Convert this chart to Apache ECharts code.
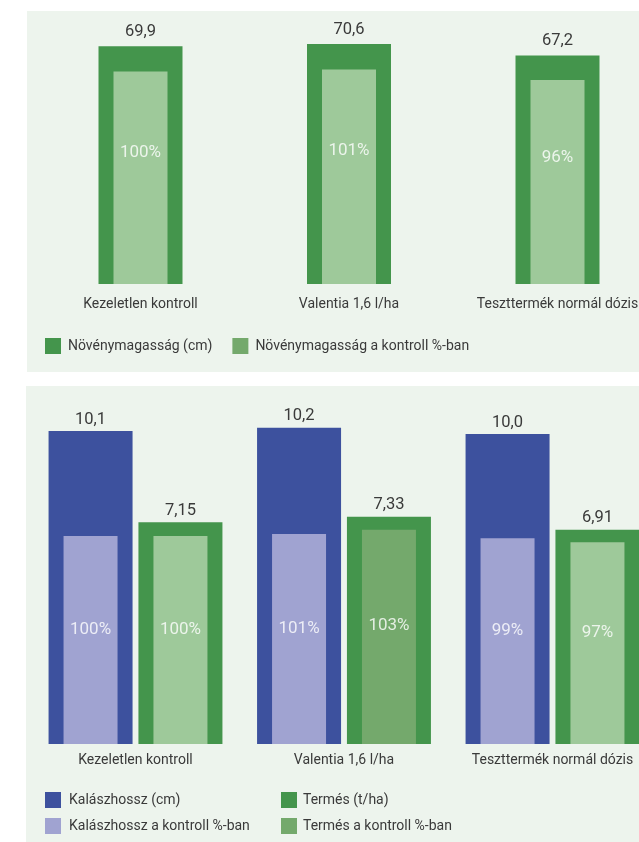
<!DOCTYPE html>
<html>
<head>
<meta charset="utf-8">
<script src="https://cdn.jsdelivr.net/npm/echarts@6/dist/echarts.min.js"></script>
<style>
html,body{margin:0;padding:0;background:#ffffff;}
#chart{width:639px;height:842px;}
</style>
</head>
<body>
<div id="chart"></div>
<script>
// Top chart
var topCategories = ['Kezeletlen kontroll', 'Valentia 1,6 l/ha', 'Teszttermék normál dózis'];
var plantHeight = [69.9, 70.6, 67.2];          // Növénymagasság (cm)
var plantHeightPct = [100, 101, 96];           // Növénymagasság a kontroll %-ban

// Bottom chart
var bottomCategories = ['Kezeletlen kontroll', 'Valentia 1,6 l/ha', 'Teszttermék normál dózis'];
var earLength = [10.1, 10.2, 10.0];            // Kalászhossz (cm)
var yieldTHa = [7.15, 7.33, 6.91];             // Termés (t/ha)
var earLengthPct = [100, 101, 99];             // Kalászhossz a kontroll %-ban
var yieldPct = [100, 103, 97];                 // Termés a kontroll %-ban

var FONT = "Roboto, 'Liberation Sans', sans-serif";
var TXT = '#3a3a3a';
var DARK_GREEN = '#44954c';
var LIGHT_GREEN = '#9ec99a';
var MID_GREEN = '#74a96c';
var BLUE = '#3d519e';
var LILAC = '#a0a3d1';

function fmt(dec) {
  return function (p) { return p.value.toFixed(dec).replace('.', ','); };
}
function pct(p) { return p.value + '%'; }

var chart = echarts.init(document.getElementById('chart'), null, {renderer: 'canvas'});

function catAxis(grid, data, show, margin) {
  return {
    type: 'category', gridIndex: grid, data: data, show: show,
    axisLine: {show: false}, axisTick: {show: false},
    axisLabel: {show: show, margin: margin, fontFamily: FONT, fontSize: 14, color: TXT, interval: 0, hideOverlap: false}
  };
}
function valAxis(grid, max) {
  return {type: 'value', gridIndex: grid, min: 0, max: max, show: false, splitLine: {show: false}};
}

var option = {
  animation: false,
  graphic: {
    elements: [
      {type: 'rect', z: -10, shape: {x: 27, y: 11, width: 612, height: 361}, style: {fill: '#edf4ed'}},
      {type: 'rect', z: -10, shape: {x: 26, y: 386, width: 613, height: 456}, style: {fill: '#edf4ed'}}
    ]
  },
  grid: [
    {left: 36.25, top: 12, width: 625.5, height: 272, containLabel: false, outerBoundsMode: 'none'},
    {left: 31.25, top: 403, width: 625.5, height: 341, containLabel: false, outerBoundsMode: 'none'}
  ],
  xAxis: [
    catAxis(0, topCategories, true, 13),
    catAxis(0, topCategories, false, 0),
    catAxis(1, bottomCategories, true, 9),
    catAxis(1, bottomCategories, false, 0)
  ],
  yAxis: [
    valAxis(0, 80),
    valAxis(0, 128),
    valAxis(1, 11),
    valAxis(1, 164)
  ],
  legend: [
    {
      data: ['Növénymagasság (cm)', 'Növénymagasság a kontroll %-ban'],
      left: 45, top: 338, orient: 'horizontal', itemGap: 20, itemWidth: 16, itemHeight: 16,
      padding: 0, selectedMode: false, icon: 'rect',
      textStyle: {fontFamily: FONT, fontSize: 14, color: TXT, padding: [0, 0, 0, 2]}
    },
    {
      data: ['Kalászhossz (cm)', 'Kalászhossz a kontroll %-ban'],
      left: 45, top: 792, orient: 'vertical', itemGap: 10, itemWidth: 16, itemHeight: 16,
      padding: 0, selectedMode: false, icon: 'rect',
      textStyle: {fontFamily: FONT, fontSize: 14, color: TXT, lineHeight: 16, padding: [0, 0, 0, 3]}
    },
    {
      data: ['Termés (t/ha)', 'Termés a kontroll %-ban'],
      left: 281, top: 792, orient: 'vertical', itemGap: 10, itemWidth: 16, itemHeight: 16,
      padding: 0, selectedMode: false, icon: 'rect',
      textStyle: {fontFamily: FONT, fontSize: 14, color: TXT, lineHeight: 16, padding: [0, 0, 0, 1]}
    }
  ],
  series: [
    {
      name: 'Növénymagasság (cm)', type: 'bar', xAxisIndex: 0, yAxisIndex: 0,
      data: plantHeight, barWidth: 84, itemStyle: {color: DARK_GREEN},
      label: {show: true, position: 'top', distance: 6, formatter: fmt(1), fontFamily: FONT, fontSize: 16.5, color: TXT}
    },
    {
      name: 'Növénymagasság a kontroll %-ban', type: 'bar', xAxisIndex: 1, yAxisIndex: 1,
      data: plantHeightPct.map(function (v) { return {value: v, itemStyle: {color: LIGHT_GREEN}}; }),
      barWidth: 54, itemStyle: {color: MID_GREEN},
      label: {show: true, position: ['50%', '38%'], align: 'center', verticalAlign: 'middle', formatter: pct,
        fontFamily: FONT, fontSize: 17, color: 'rgba(255,255,255,0.8)'}
    },
    {
      name: 'Kalászhossz (cm)', type: 'bar', xAxisIndex: 2, yAxisIndex: 2,
      data: earLength, barWidth: 84, barGap: '7%', itemStyle: {color: BLUE},
      label: {show: true, position: 'top', distance: 3, formatter: fmt(1), fontFamily: FONT, fontSize: 16.5, color: TXT}
    },
    {
      name: 'Termés (t/ha)', type: 'bar', xAxisIndex: 2, yAxisIndex: 2,
      data: yieldTHa, barWidth: 84, barGap: '7%', itemStyle: {color: DARK_GREEN},
      label: {show: true, position: 'top', distance: 3, formatter: fmt(2), fontFamily: FONT, fontSize: 16.5, color: TXT}
    },
    {
      name: 'Kalászhossz a kontroll %-ban', type: 'bar', xAxisIndex: 3, yAxisIndex: 3,
      data: earLengthPct, barWidth: 54, barGap: '66.5%', itemStyle: {color: LILAC},
      label: {show: true, position: ['50%', '45%'], align: 'center', verticalAlign: 'middle', formatter: pct,
        fontFamily: FONT, fontSize: 17, color: 'rgba(255,255,255,0.8)'}
    },
    {
      name: 'Termés a kontroll %-ban', type: 'bar', xAxisIndex: 3, yAxisIndex: 3,
      data: yieldPct.map(function (v, i) { return {value: v, itemStyle: {color: i === 1 ? MID_GREEN : LIGHT_GREEN}}; }),
      barWidth: 54, barGap: '66.5%', itemStyle: {color: MID_GREEN},
      label: {show: true, position: ['50%', '45%'], align: 'center', verticalAlign: 'middle', formatter: pct,
        fontFamily: FONT, fontSize: 17, color: 'rgba(255,255,255,0.8)'}
    }
  ]
};
chart.setOption(option);
</script>
</body>
</html>
